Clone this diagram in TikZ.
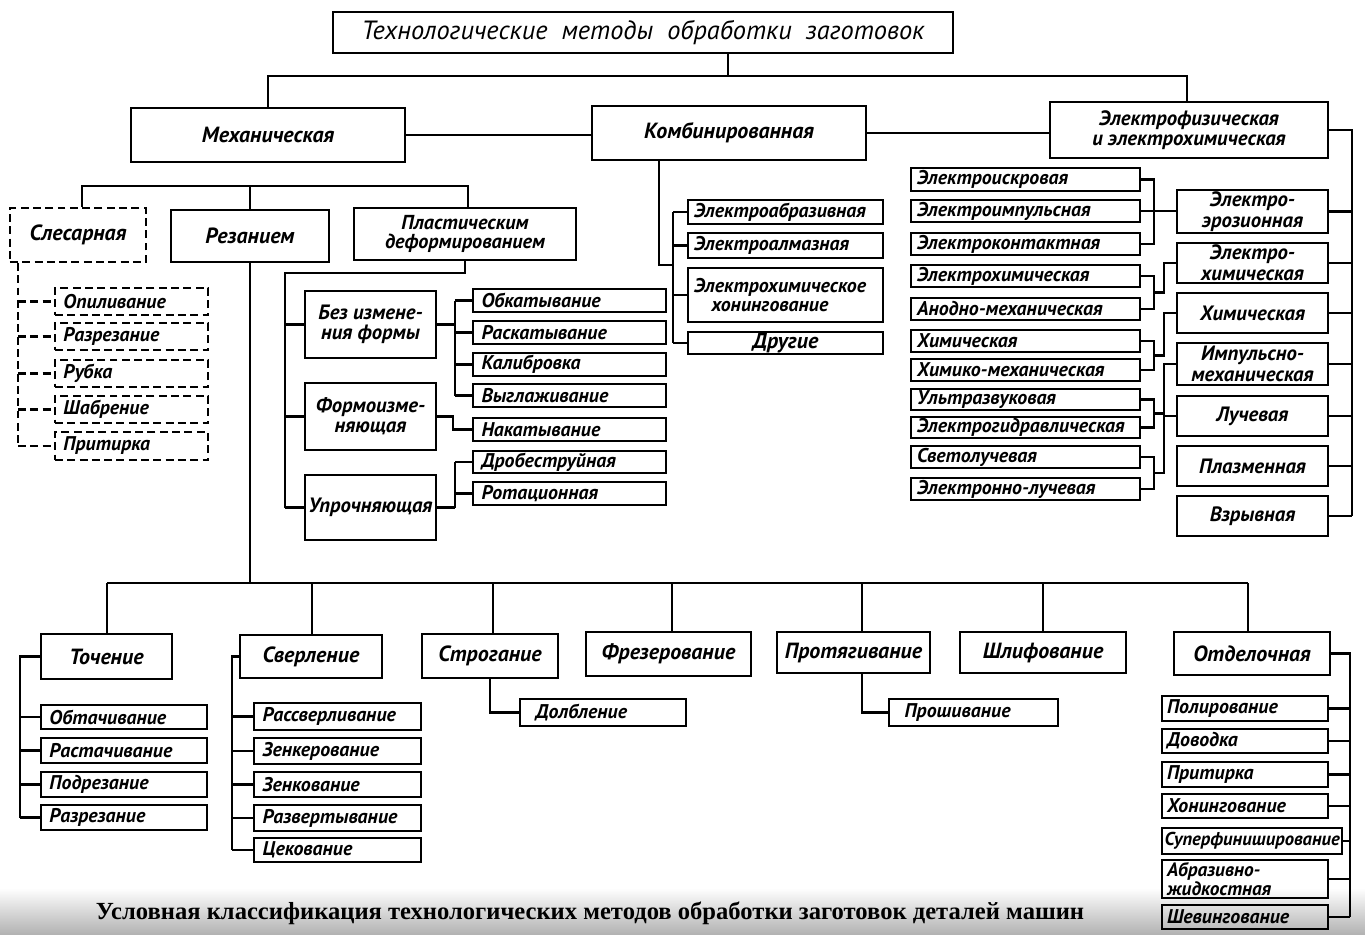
\documentclass[tikz,border=0pt]{standalone}
\usepackage{fontspec}
\setmainfont{PT Sans}
\newfontfamily\capfont{Liberation Serif}
\usetikzlibrary{calc}

% box spanning corner (x1,y1) to corner (x2,y2), in picture units
\newcommand\mkbox[7][]{%
  \pgfmathsetmacro\bxw{(#5-#3)*0.02}%
  \pgfmathsetmacro\bxh{(#6-#4)*0.02}%
  \pgfmathsetmacro\bxtw{(#5-#3)*0.02-0.34}%
  \node[frame,#1,minimum width=\bxw cm,minimum height=\bxh cm]
    (#2) at ({(#3+#5)/2},{(#4+#6)/2}) {#7};}

\tikzset{
  frame/.style={draw, line width=1.1pt, inner sep=0pt, align=center,
    font=\bfseries\itshape\fontsize{12.5}{11}\selectfont},
  sub/.style={font=\bfseries\itshape\fontsize{11.8}{11.5}\selectfont},
  item/.style={align=left, text width=\bxtw cm, inner xsep=0.17cm,
    font=\bfseries\itshape\fontsize{11.3}{11}\selectfont},
  pair/.style={font=\bfseries\itshape\fontsize{11.8}{12}\selectfont},
  dsh/.style={dash pattern=on 4.5pt off 2.5pt},
  wire/.style={line width=1.3pt},
}

\begin{document}
\begin{tikzpicture}[x=0.02cm,y=-0.02cm]
\fill[white] (0,0) rectangle (1365,934);
\shade[top color=white, bottom color=black!30] (0,888) rectangle (1365,934);
\useasboundingbox (0,0) rectangle (1365,934);

% ---------- top levels ----------
\mkbox[font=\itshape\fontsize{15}{17}\selectfont]{title}{333}{12}{953}{53}{Технологические\hspace{8pt}методы\hspace{8pt}обработки\hspace{8pt}заготовок}
\mkbox{mech}{131}{108}{405}{162}{Механическая}
\mkbox{comb}{592}{106}{866}{160}{Комбинированная}
\mkbox[sub]{elphys}{1050}{102}{1328}{158}{Электрофизическая\\и электрохимическая}

\coordinate (jt) at (728,76);
\coordinate (jl) at (268,76);
\coordinate (jr) at (1187,76);
\draw[wire] (title.south -| jt) -- (jt);
\draw[wire] (mech.north -| jl) -- (jl) -- (jr) -- (elphys.north -| jr);
\draw[wire] (mech.east) -- (mech.east -| comb.west);
\draw[wire] (comb.east) -- (comb.east -| elphys.west);

% ---------- mechanical ----------
\mkbox[dsh]{slesar}{10}{208}{146}{262}{Слесарная}
\mkbox{rez}{171}{210}{329}{262}{Резанием}
\mkbox[font=\bfseries\itshape\fontsize{11.5}{11}\selectfont]{plast}{354}{208}{576}{260}{Пластическим\\деформированием}
\coordinate (ml) at (82,186);
\coordinate (mr) at (468,186);
\draw[wire] (slesar.north -| ml) -- (ml) -- (mr) -- (plast.north -| mr);
\draw[wire] (rez.north) -- (rez.north |- ml);

% bench work
\mkbox[item,dsh]{s1}{55}{288}{208}{315}{Опиливание}
\mkbox[item,dsh]{s2}{55}{323}{208}{350}{Разрезание}
\mkbox[item,dsh]{s3}{55}{360}{208}{387}{Рубка}
\mkbox[item,dsh]{s4}{55}{396}{208}{423}{Шабрение}
\mkbox[item,dsh]{s5}{55}{432}{208}{460}{Притирка}
\coordinate (sv) at (18,0);
\draw[wire,dsh] (slesar.south -| sv) -- (sv |- s5.west);
\foreach \n in {s1,s2,s3,s4,s5} \draw[wire,dsh] (sv |- \n.west) -- (\n.west);

% plastic deformation
\mkbox[sub]{bez}{305}{291}{436}{358}{Без измене-\\ния формы}
\mkbox[sub]{form}{305}{383}{436}{450}{Формоизме-\\няющая}
\mkbox[sub]{upr}{305}{475}{436}{540}{Упрочняющая}
\coordinate (pa) at (285,273);
\draw[wire] (plast.south) |- (pa) -- (pa |- upr.west);
\foreach \n in {bez,form,upr} \draw[wire] (pa |- \n.west) -- (\n.west);

\mkbox[item]{p1}{473}{289}{666}{312}{Обкатывание}
\mkbox[item]{p2}{473}{321}{666}{344}{Раскатывание}
\mkbox[item]{p3}{473}{353}{666}{376}{Калибровка}
\mkbox[item]{p4}{473}{384}{666}{407}{Выглаживание}
\mkbox[item]{p5}{473}{418}{666}{441}{Накатывание}
\mkbox[item]{p6}{473}{451}{666}{473}{Дробеструйная}
\mkbox[item]{p7}{473}{482}{666}{505}{Ротационная}
\coordinate (pb) at (455,0);
\coordinate (pf) at (453,0);
\draw[wire] (bez.east) -- (bez.east -| pb);
\draw[wire] (pb |- p1.west) -- (pb |- p4.west);
\foreach \n in {p1,p2,p3,p4} \draw[wire] (pb |- \n.west) -- (\n.west);
\draw[wire] (form.east) -- (form.east -| pf) |- (p5.west);
\draw[wire] (upr.east) -- (upr.east -| pb);
\draw[wire] (pb |- p6.west) -- (pb |- upr.east);
\foreach \n in {p6,p7} \draw[wire] (pb |- \n.west) -- (\n.west);

% ---------- combined ----------
\mkbox[item,inner xsep=0.12cm,text width=\bxtw cm+0.1cm]{c1}{688}{200}{883}{224}{Электроабразивная}
\mkbox[item,inner xsep=0.12cm,text width=\bxtw cm+0.1cm]{c2}{688}{233}{883}{258}{Электроалмазная}
\mkbox[item,inner xsep=0.12cm,text width=\bxtw cm+0.1cm]{c3}{688}{268}{883}{322}{Электрохимическое\\\hspace{10pt}хонингование}
\mkbox{c4}{688}{332}{883}{354}{Другие}
\coordinate (cd) at (659,265);
\coordinate (cv) at (673,0);
\draw[wire] (comb.south -| cd) -- (cd) -- (cd -| cv);
\draw[wire] (cv |- c1.west) -- (cv |- c4.west);
\foreach \n in {c1,c2,c3,c4} \draw[wire] (cv |- \n.west) -- (\n.west);

% ---------- electrophysical ----------
\mkbox[item,inner xsep=0.12cm,text width=\bxtw cm+0.1cm]{e1}{911}{168}{1140}{191}{Электроискровая}
\mkbox[item,inner xsep=0.12cm,text width=\bxtw cm+0.1cm]{e2}{911}{200}{1140}{222}{Электроимпульсная}
\mkbox[item,inner xsep=0.12cm,text width=\bxtw cm+0.1cm]{e3}{911}{233}{1140}{255}{Электроконтактная}
\mkbox[item,inner xsep=0.12cm,text width=\bxtw cm+0.1cm]{e4}{911}{265}{1140}{287}{Электрохимическая}
\mkbox[item,inner xsep=0.12cm,text width=\bxtw cm+0.1cm]{e5}{911}{298}{1140}{320}{Анодно-механическая}
\mkbox[item,inner xsep=0.12cm,text width=\bxtw cm+0.1cm]{e6}{911}{330}{1140}{352}{Химическая}
\mkbox[item,inner xsep=0.12cm,text width=\bxtw cm+0.1cm]{e7}{911}{359}{1140}{381}{Химико-механическая}
\mkbox[item,inner xsep=0.12cm,text width=\bxtw cm+0.1cm]{e8}{911}{389}{1140}{410}{Ультразвуковая}
\mkbox[item,inner xsep=0.12cm,text width=\bxtw cm+0.1cm]{e9}{911}{417}{1140}{438}{Электрогидравлическая}
\mkbox[item,inner xsep=0.12cm,text width=\bxtw cm+0.1cm]{e10}{911}{446}{1140}{468}{Светолучевая}
\mkbox[item,inner xsep=0.12cm,text width=\bxtw cm+0.1cm]{e11}{911}{478}{1140}{500}{Электронно-лучевая}

\mkbox[pair]{r1}{1177}{190}{1328}{233}{Электро-\\эрозионная}
\mkbox[pair]{r2}{1177}{243}{1328}{283}{Электро-\\химическая}
\mkbox[pair]{r3}{1177}{293}{1328}{333}{Химическая}
\mkbox[pair]{r4}{1177}{343}{1328}{385}{Импульсно-\\механическая}
\mkbox[pair]{r5}{1177}{396}{1328}{436}{Лучевая}
\mkbox[pair]{r6}{1177}{446}{1328}{486}{Плазменная}
\mkbox[pair]{r7}{1177}{496}{1328}{536}{Взрывная}

\coordinate (ev) at (1352,0);
\draw[wire] (elphys.east) -- (elphys.east -| ev) -- (ev |- r7.east);
\foreach \n in {r1,r2,r3,r4,r5,r6,r7} \draw[wire] (\n.east) -- (\n.east -| ev);

\coordinate (gx) at (1154,0);
\coordinate (hx) at (1164,0);
\draw[wire] (e1.east) -- (e1.east -| gx) -- (e3.east -| gx) -- (e3.east);
\draw[wire] (e2.east) -- (e2.east -| r1.west);
\foreach \a/\b/\r in {e4/e5/r2,e6/e7/r3,e8/e9/r4,e10/e11/r5}{
  \draw[wire] (\a.east) -- (\a.east -| gx) -- (\b.east -| gx) -- (\b.east);
  \coordinate (ga\a) at (\a.east -| gx);
  \coordinate (gb\a) at (\b.east -| gx);
  \coordinate (gm\a) at ($(ga\a)!0.5!(gb\a)$);
  \draw[wire] (gm\a) -- (gm\a -| hx) |- (\r.west);
}

% ---------- cutting operations ----------
\mkbox{b1}{41}{634}{172}{679}{Точение}
\mkbox{b2}{240}{635}{382}{678}{Сверление}
\mkbox{b3}{422}{634}{558}{678}{Строгание}
\mkbox{b4}{586}{632}{751}{676}{Фрезерование}
\mkbox{b5}{777}{632}{930}{673}{Протягивание}
\mkbox{b6}{960}{632}{1126}{673}{Шлифование}
\mkbox{b7}{1174}{632}{1330}{675}{Отделочная}

\coordinate (bl) at (107,583);
\coordinate (br) at (1248,583);
\draw[wire] (rez.south) -- (rez.south |- bl);
\draw[wire] (bl) -- (br);
\foreach \n/\x in {b1/107,b2/312,b3/493,b4/672,b5/862,b6/1043,b7/1248}{
  \coordinate (t\n) at (\x,583);
  \draw[wire] (t\n) -- (t\n |- \n.north);
}

% turning
\mkbox[item]{t1}{41}{705}{207}{729}{Обтачивание}
\mkbox[item]{t2}{41}{738}{207}{763}{Растачивание}
\mkbox[item]{t3}{41}{772}{207}{797}{Подрезание}
\mkbox[item]{t4}{41}{805}{207}{830}{Разрезание}
\coordinate (tv) at (20,0);
\draw[wire] (b1.west) -- (b1.west -| tv) -- (tv |- t4.west);
\foreach \n in {t1,t2,t3,t4} \draw[wire] (tv |- \n.west) -- (\n.west);

% drilling
\mkbox[item]{d1}{254}{703}{421}{730}{Рассверливание}
\mkbox[item]{d2}{254}{738}{421}{764}{Зенкерование}
\mkbox[item]{d3}{254}{772}{421}{797}{Зенкование}
\mkbox[item]{d4}{254}{805}{421}{831}{Развертывание}
\mkbox[item]{d5}{254}{838}{421}{862}{Цекование}
\coordinate (dv) at (232,0);
\draw[wire] (b2.west) -- (b2.west -| dv) -- (dv |- d5.west);
\foreach \n in {d1,d2,d3,d4,d5} \draw[wire] (dv |- \n.west) -- (\n.west);

% planing and broaching
\mkbox[item]{dolb}{520}{699}{686}{726}{\hspace{4pt}Долбление}
\mkbox[item]{prosh}{889}{699}{1058}{726}{\hspace{4pt}Прошивание}
\draw[wire] (b3.south) |- (dolb.west);
\draw[wire] (b5.south -| tb5) |- (prosh.west);

% finishing
\mkbox[item,inner xsep=0.1cm,text width=\bxtw cm+0.14cm]{o1}{1162}{696}{1328}{721}{Полирование}
\mkbox[item,inner xsep=0.1cm,text width=\bxtw cm+0.14cm]{o2}{1162}{729}{1328}{753}{Доводка}
\mkbox[item,inner xsep=0.1cm,text width=\bxtw cm+0.14cm]{o3}{1162}{762}{1328}{787}{Притирка}
\mkbox[item,inner xsep=0.1cm,text width=\bxtw cm+0.14cm]{o4}{1162}{794}{1328}{818}{Хонингование}
\mkbox[item,inner xsep=0.05cm,text width=\bxtw cm+0.24cm,font=\bfseries\itshape\fontsize{10.6}{11}\selectfont]{o5}{1162}{828}{1342}{854}{Суперфиниширование}
\mkbox[item,inner xsep=0.1cm,text width=\bxtw cm+0.14cm,font=\bfseries\itshape\fontsize{11}{10.5}\selectfont]{o6}{1162}{860}{1328}{898}{Абразивно-\\жидкостная}
\mkbox[item,inner xsep=0.1cm,text width=\bxtw cm+0.14cm]{o7}{1162}{905}{1328}{929}{Шевингование}
\coordinate (ov) at (1350,0);
\draw[wire] (b7.east) -- (b7.east -| ov) -- (ov |- o7.east);
\foreach \n in {o1,o2,o3,o4,o5,o6,o7} \draw[wire] (\n.east) -- (\n.east -| ov);

% caption
\node[font=\capfont\bfseries\fontsize{14}{16}\selectfont] (cap) at (590,913)
  {Условная классификация технологических методов обработки заготовок деталей машин};
\end{tikzpicture}
\end{document}
